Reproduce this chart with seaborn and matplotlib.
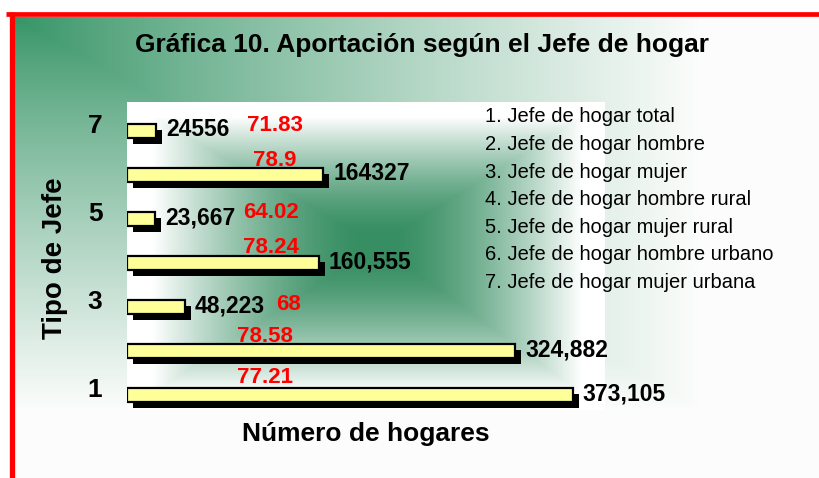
import numpy as np
import pandas as pd
import matplotlib
matplotlib.use("Agg")
import matplotlib.pyplot as plt
import matplotlib.patheffects as pe
from matplotlib.transforms import ScaledTranslation
import seaborn as sns

# ---------------- data ----------------
categories = ["1", "2", "3", "4", "5", "6", "7"]
hogares = [373105, 324882, 48223, 160555, 23667, 164327, 24556]
hogares_labels = ["373,105", "324,882", "48,223", "160,555", "23,667", "164327", "24556"]
porcentajes = ["77.21", "78.58", "68", "78.24", "64.02", "78.9", "71.83"]
tick_labels = ["1", "", "3", "", "5", "", "7"]
legend_lines = [
    "1. Jefe de hogar total",
    "2. Jefe de hogar hombre",
    "3. Jefe de hogar mujer",
    "4. Jefe de hogar hombre rural",
    "5. Jefe de hogar mujer rural",
    "6. Jefe de hogar hombre urbano",
    "7. Jefe de hogar mujer urbana",
]
title = "Gráfica 10. Aportación según el Jefe de hogar"
xlabel = "Número de hogares"
ylabel = "Tipo de Jefe"

# ---------------- layout (pixels) ----------------
W, H = 820, 478
red_pos_x = [0.288, 0.289, 0.337, 0.302, 0.302, 0.310, 0.310]   # axes fraction
red_dy = [17, 14, 2, 15, 6, 14, 5]                                # px upward

sns.set_style("white")
plt.rcParams["font.family"] = ["Liberation Sans", "DejaVu Sans"]
plt.rcParams["text.color"] = "black"
plt.rcParams["ytick.color"] = "black"
plt.rcParams["xtick.color"] = "black"
plt.rcParams["axes.labelcolor"] = "black"

fig = plt.figure(figsize=(W / 100, H / 100), dpi=100)
fig.patch.set_facecolor("white")

def fx(x):
    return x / W

def fy(y):
    return 1 - y / H

# background gradient (corner, top-left)
green = np.array([0.21, 0.58, 0.40])
white = np.array([0.985, 0.99, 0.985])
bg = fig.add_axes([fx(15), 0, 1 - fx(15), 1 - 17 / H], zorder=-10)
gx = np.linspace(0, 1, 400)[None, :]
gy = np.linspace(0, 1, 250)[:, None]
t = np.maximum(gx, gy)
s = np.clip(t / 0.85, 0, 1) ** 0.85
img = green[None, None, :] * (1 - s[..., None]) + white[None, None, :] * s[..., None]
bg.imshow(img, extent=[0, 1, 0, 1], aspect="auto", origin="upper")
bg.set_axis_off()

# red border
fig.add_artist(plt.Line2D([fx(6), 1], [fy(14), fy(14)], color="#ff0000", lw=3.4, solid_capstyle="butt"))
fig.add_artist(plt.Line2D([fx(12), fx(12)], [fy(12), 0], color="#ff0000", lw=3.8, solid_capstyle="butt"))

# plot axes
L, T, R, B = 127, 102, 605, 410
ax = fig.add_axes([fx(L), fy(B), fx(R) - fx(L), fy(T) - fy(B)])
ax.patch.set_visible(False)

# plot area gradient (from centre, pyramid)
cx, cy = (378 - L) / (R - L), (245 - T) / (B - T)
px = np.linspace(0, 1, 480)[None, :]
py = np.linspace(0, 1, 310)[:, None]
tx = np.where(px < cx, (cx - px) / cx, (px - cx) / (1 - cx))
ty = np.where(py < cy, (cy - py) / cy, (py - cy) / (1 - cy))
t2 = np.maximum(tx, ty)
s2 = np.clip((t2 - 0.08) / 0.82, 0, 1) ** 1.45
green2 = np.array([0.22, 0.56, 0.39])
white2 = np.array([1.0, 1.0, 1.0])
img2 = green2[None, None, :] * (1 - s2[..., None]) + white2[None, None, :] * s2[..., None]
ax.imshow(img2, extent=[0, 1, 0, 1], transform=ax.transAxes, aspect="auto",
          origin="upper", zorder=0)

df = pd.DataFrame({"tipo": categories, "hogares": hogares})
order = categories[::-1]
sns.barplot(data=df, x="hogares", y="tipo", order=order, color="#FFFF99",
            saturation=1, edgecolor="black", linewidth=1.6, width=0.32, ax=ax, zorder=1)

for p in ax.patches:
    p.set_path_effects([pe.withSimplePatchShadow(offset=(4.3, -4.3), shadow_rgbFace="black", alpha=1.0)])
    p.set_zorder(1)

ax.set_xlim(0, 400000)
ax.set_ylim(6.341, -0.659)

pos = {c: i for i, c in enumerate(order)}
for i, c in enumerate(categories):
    y = pos[c]
    ax.annotate(hogares_labels[i], xy=(hogares[i], y), xytext=(7.2, 0.8),
                textcoords="offset points", ha="left", va="center",
                fontsize=16.5, fontweight="bold", color="black", zorder=3)
    ax.annotate(porcentajes[i], xy=(red_pos_x[i], y), xycoords=("axes fraction", "data"),
                xytext=(0, red_dy[i] * 0.72), textcoords="offset points",
                ha="center", va="center", fontsize=16, fontweight="bold",
                color="#ff0000", zorder=0.9)

ax.set_yticks([pos[c] for c in categories])
ax.set_yticklabels(tick_labels, fontsize=19, fontweight="bold", color="black")
ax.tick_params(axis="y", length=0, pad=17.7)
for lab in ax.get_yticklabels():
    lab.set_transform(lab.get_transform() + ScaledTranslation(0, 7 / 100, fig.dpi_scale_trans))
ax.set_xticks([])
ax.set_xlabel("")
ax.set_ylabel("")
for sp in ax.spines.values():
    sp.set_visible(False)

fig.text(fx(422), fy(45), title, ha="center", va="center", fontsize=19, fontweight="bold", color="black")
fig.text(fx(366), fy(434), xlabel, ha="center", va="center", fontsize=19, fontweight="bold", color="black")
fig.text(fx(55), fy(258), ylabel, ha="center", va="center", rotation=90, fontsize=20, fontweight="bold", color="black")
for i, line in enumerate(legend_lines):
    fig.text(fx(485), fy(117 + 27.6 * i), line, ha="left", va="center", fontsize=14.5, color="black")

fig.savefig("out.png", dpi=100)
